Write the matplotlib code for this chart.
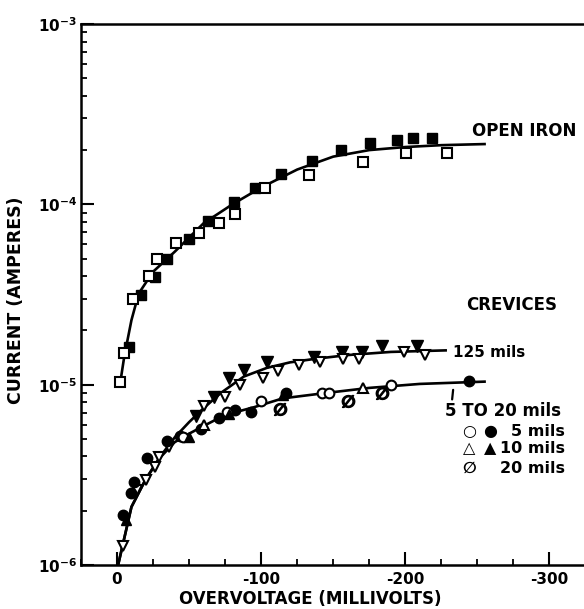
import numpy as np
import matplotlib
matplotlib.use("Agg")
import matplotlib.pyplot as plt
from matplotlib.ticker import MultipleLocator, LogLocator, FixedLocator, FuncFormatter, NullFormatter

plt.rcParams["axes.unicode_minus"] = False
plt.rcParams["font.family"] = ["DejaVu Sans"]
plt.rcParams["font.weight"] = "bold"

# overvoltage magnitudes (mV) and currents (A)
iron_open_mv = [2.3, 5, 11, 22, 27.7, 41, 57, 71, 82, 103, 133, 171, 200.7, 229]
iron_open_a = [1.03e-5, 1.50e-5, 2.97e-5, 4.0e-5, 4.98e-5, 6.08e-5, 6.9e-5,
               7.85e-5, 8.9e-5, 1.23e-4, 1.46e-4, 1.72e-4, 1.92e-4, 1.93e-4]
iron_fill_mv = [8.5, 16.6, 26.5, 35, 50, 63, 81, 96, 113.5, 135.4, 155.5,
                175.3, 194, 205.7, 218.5]
iron_fill_a = [1.62e-5, 3.14e-5, 3.98e-5, 4.98e-5, 6.4e-5, 8.1e-5, 1.03e-4,
               1.23e-4, 1.47e-4, 1.75e-4, 2.0e-4, 2.2e-4, 2.27e-4, 2.32e-4, 2.32e-4]
iron_fit_mv = [2.5, 5, 10, 15, 25, 40, 60, 80, 100, 125, 150, 175, 200, 225, 255]
iron_fit_a = [1.06e-5, 1.43e-5, 2.28e-5, 3.2e-5, 4.23e-5, 5.46e-5, 7.85e-5,
              1.0e-4, 1.24e-4, 1.56e-4, 1.84e-4, 2.0e-4, 2.08e-4, 2.13e-4, 2.16e-4]

c125_open_mv = [4, 14, 20, 26, 29, 36, 60, 75, 85, 101, 112, 126, 141, 157,
                168, 199, 214]
c125_open_a = [1.28e-6, 2.6e-6, 2.95e-6, 3.5e-6, 3.98e-6, 4.5e-6, 7.6e-6,
               8.6e-6, 1.0e-5, 1.09e-5, 1.19e-5, 1.29e-5, 1.33e-5, 1.38e-5,
               1.38e-5, 1.52e-5, 1.47e-5]
c125_fill_mv = [55, 67, 78, 88, 104, 137, 156, 170, 184, 208]
c125_fill_a = [6.7e-6, 8.5e-6, 1.09e-5, 1.21e-5, 1.33e-5, 1.43e-5, 1.52e-5,
               1.52e-5, 1.64e-5, 1.64e-5]
c125_fit_mv = [1, 10, 20, 30, 40, 50, 60, 72, 88, 104, 120, 137, 160, 190, 228]
c125_fit_a = [1.02e-6, 2.1e-6, 3.0e-6, 4.0e-6, 5.1e-6, 6.2e-6, 7.4e-6, 9.0e-6,
              1.11e-5, 1.24e-5, 1.33e-5, 1.39e-5, 1.46e-5, 1.52e-5, 1.55e-5]

c5_open_mv = [46, 76, 100, 142, 147, 190]
c5_open_a = [5.1e-6, 7.1e-6, 8.1e-6, 9.0e-6, 9.0e-6, 9.9e-6]
c5_fill_mv = [4, 10, 12, 21, 35, 44, 58, 71, 82, 93, 117, 244]
c5_fill_a = [1.9e-6, 2.5e-6, 2.9e-6, 3.9e-6, 4.9e-6, 5.2e-6, 5.7e-6, 6.5e-6,
             7.2e-6, 7.1e-6, 9.0e-6, 1.05e-5]
c10_open_mv = [60, 171]
c10_open_a = [6.0e-6, 9.55e-6]
c10_fill_mv = [6, 50, 78, 115]
c10_fill_a = [1.78e-6, 5.1e-6, 6.9e-6, 8.8e-6]
c20_mv = [113, 160, 184]
c20_a = [7.3e-6, 8.15e-6, 8.95e-6]
small_fit_mv = [1, 10, 20, 30, 40, 50, 60, 75, 95, 115, 145, 175, 210, 255]
small_fit_a = [1.02e-6, 2.1e-6, 3.0e-6, 3.95e-6, 4.8e-6, 5.35e-6, 5.9e-6, 6.8e-6,
               7.5e-6, 8.4e-6, 9.0e-6, 9.6e-6, 1.01e-5, 1.04e-5]


def neg(v):
    return -np.asarray(v, dtype=float)


fig = plt.figure(figsize=(5.84, 6.09), dpi=100)
ax = fig.add_axes([0.1387, 0.0722, 0.8613, 0.8883])

LW = 1.9
open_kw = dict(ls="none", mfc="white", mec="black", mew=1.5, zorder=4)
fill_kw = dict(ls="none", color="black", zorder=4)

# fitted curves
ax.plot(neg(iron_fit_mv), iron_fit_a, color="black", lw=LW, zorder=3)
ax.plot(neg(c125_fit_mv), c125_fit_a, color="black", lw=LW, zorder=3)
ax.plot(neg(small_fit_mv), small_fit_a, color="black", lw=LW, zorder=3)

# open iron
ax.plot(neg(iron_fill_mv), iron_fill_a, marker="s", ms=7, **fill_kw)
ax.plot(neg(iron_open_mv), iron_open_a, marker="s", ms=6.5, **open_kw)

# crevices
ax.plot(neg(c125_fill_mv), c125_fill_a, marker="v", ms=8, **fill_kw)
ax.plot(neg(c125_open_mv), c125_open_a, marker="v", ms=7.5, **open_kw)
ax.plot(neg(c5_fill_mv), c5_fill_a, marker="o", ms=7.5, **fill_kw)
ax.plot(neg(c5_open_mv), c5_open_a, marker="o", ms=7, **open_kw)
ax.plot(neg(c10_fill_mv), c10_fill_a, marker="^", ms=7.5, **fill_kw)
ax.plot(neg(c10_open_mv), c10_open_a, marker="^", ms=7, **open_kw)
ax.plot(neg(c20_mv), c20_a, ls="none", marker=r"$\emptyset$", ms=9,
        color="black", zorder=4)

# axes
ax.set_yscale("log")
ax.set_ylim(1e-6, 1e-3)
ax.set_xlim(25, -324)
ax.spines["right"].set_visible(False)
for s in ("left", "bottom", "top"):
    ax.spines[s].set_linewidth(1.8)

ax.xaxis.set_major_locator(FixedLocator([0, -100, -200, -300]))
ax.xaxis.set_minor_locator(MultipleLocator(25))
ax.yaxis.set_major_locator(LogLocator(base=10, numticks=10))
ax.yaxis.set_minor_locator(LogLocator(base=10, subs=np.arange(2, 10), numticks=20))
ax.yaxis.set_minor_formatter(NullFormatter())
ax.yaxis.set_major_formatter(
    FuncFormatter(lambda v, p: r"$\mathbf{10^{%d}}$" % round(np.log10(v))))

ax.tick_params(which="both", direction="in", top=False, right=False)
ax.tick_params(which="major", length=9.5, width=1.5)
ax.tick_params(which="minor", length=4.5, width=1.3)
ax.tick_params(axis="x", which="major", labelsize=11, pad=5)
ax.tick_params(axis="y", which="major", labelsize=11, pad=3)
for lab in ax.get_xticklabels():
    lab.set_fontweight("bold")

ax.set_xlabel("OVERVOLTAGE (MILLIVOLTS)", fontsize=12, fontweight="bold")
ax.xaxis.set_label_coords(0.455, -0.046)
ax.set_ylabel("CURRENT (AMPERES)", fontsize=12.5, fontweight="bold")
ax.yaxis.set_label_coords(-0.111, 0.49)

# curve labels
txt = dict(fontsize=12, fontweight="bold", color="black")
ax.text(0.778, 0.802, "OPEN IRON", transform=ax.transAxes, ha="left", va="center", **txt)
ax.text(0.765, 0.480, "CREVICES", transform=ax.transAxes, ha="left", va="center", **txt)
ax.text(0.740, 0.392, "125 mils", transform=ax.transAxes, ha="left", va="center",
        fontsize=11, fontweight="bold")
ax.text(0.724, 0.284, "5 TO 20 mils", transform=ax.transAxes, ha="left", va="center", **txt)
ax.annotate("", xy=(-233.4, 9.7e-6), xytext=(-232.3, 8.0e-6),
            arrowprops=dict(arrowstyle="-", lw=1.6, color="black"))

# key
key = dict(fontsize=11.5, fontweight="bold", color="black", transform=ax.transAxes,
           va="center")
ax.text(0.771, 0.246, "\u25cb", ha="center", **key)
ax.text(0.813, 0.246, "\u25cf", ha="center", **key)
ax.text(0.962, 0.246, "5 mils", ha="right", **key)
ax.text(0.771, 0.216, "\u25b3", ha="center", **key)
ax.text(0.813, 0.216, "\u25b2", ha="center", **key)
ax.text(0.962, 0.216, "10 mils", ha="right", **key)
ax.text(0.773, 0.179, r"$\emptyset$", ha="center", **key)
ax.text(0.962, 0.179, "20 mils", ha="right", **key)

fig.savefig("out.png", dpi=100, facecolor="white")
